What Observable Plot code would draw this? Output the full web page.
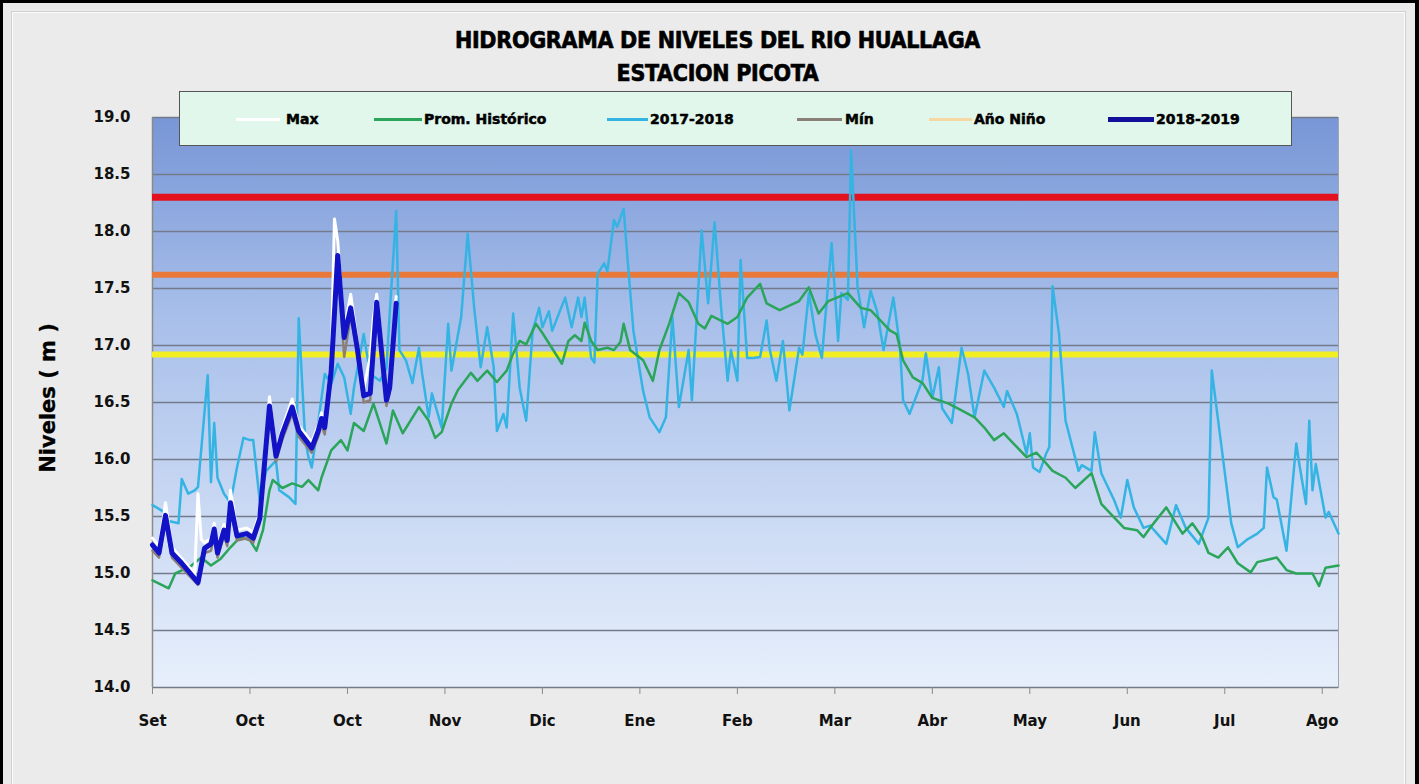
<!DOCTYPE html>
<html>
<head>
<meta charset="utf-8">
<script src="https://cdn.jsdelivr.net/npm/d3@7"></script>
<script src="https://cdn.jsdelivr.net/npm/@observablehq/plot@0.6"></script>
<style>
html,body{margin:0;padding:0;background:#ebebeb;}
#page{position:relative;width:1419px;height:784px;overflow:hidden;background:#ebebeb;}
#frame{position:absolute;left:0;top:0;width:1419px;height:784px;box-sizing:border-box;border-top:3px solid #000;border-left:3px solid #000;border-right:4px solid #000;pointer-events:none;}
#inner{position:absolute;left:12px;top:12px;width:1393px;height:790px;box-sizing:border-box;border:1px solid #fbfbfb;outline:1px solid #d0d0d0;}
#chart{position:absolute;left:0;top:0;}
.title{position:absolute;left:8px;width:1419px;text-align:center;font-family:"DejaVu Sans Condensed","Liberation Sans Narrow",sans-serif;font-weight:bold;font-size:23px;line-height:24px;color:#000;-webkit-text-stroke:0.6px #000;letter-spacing:-0.3px;}
#legend{position:absolute;left:179px;top:91px;width:1113px;height:55px;box-sizing:border-box;background:#e2f7ec;border:1.5px solid #555;}
.sw{position:absolute;}
.lt{position:absolute;top:119px;transform:translateY(-50%);font-family:"DejaVu Sans",sans-serif;font-weight:bold;font-size:14px;line-height:16px;color:#000;-webkit-text-stroke:0.5px #000;white-space:nowrap;}
#ylab{position:absolute;left:-102px;top:383px;width:300px;height:30px;line-height:30px;text-align:center;transform:rotate(-90deg);font-family:"DejaVu Sans",sans-serif;font-weight:bold;font-size:21px;color:#000;-webkit-text-stroke:0.3px #000;}
</style>
</head>
<body>
<div id="page">
  <div id="inner"></div>
  <div id="chart"></div>
  <div class="title" style="top:28px;">HIDROGRAMA DE NIVELES DEL RIO HUALLAGA</div>
  <div class="title" style="top:61px;">ESTACION PICOTA</div>
  <div id="ylab">Niveles ( m )</div>
  <div id="legendWrap"></div>
  <div id="frame"></div>
</div>
<script>
// ---------- data ----------
const monthLabels = ["Set","Oct","Oct","Nov","Dic","Ene","Feb","Mar","Abr","May","Jun","Jul","Ago"];
const tickDays = [0,30,60,90,120,150,180,210,240,270,300,330,360];
const yTicks = [14,14.5,15,15.5,16,16.5,17,17.5,18,18.5,19];

// alert thresholds (horizontal lines)
const thresholdValues = [18.3, 17.62, 16.92];
const thresholdColors = ["#e3101e", "#e9793a", "#f1ee22"];

// Prom. Histórico
const promDays = [0,5,7,10,12,15,18,21,24,27,30,32,34,36,37,40,43,46,48,51,52,55,58,60,62,65,68,72,74,77,82,85,87,89,92,94,98,100,103,106,109,111,113,115,118,120,126,128,130,132,133,135,137,140,142,144,145,147,151,154,156,159,162,165,168,170,172,177,180,183,187,189,193,199,202,205,208,214,218,221,224,227,229,231,234,237,240,245,249,253,256,259,262,265,269,272,274,277,281,284,289,292,296,299,303,305,307,312,315,317,320,323,325,328,331,334,338,340,346,349,352,357,359,361,365];
const promVals = [14.94,14.87,15.00,15.04,15.07,15.14,15.07,15.13,15.23,15.32,15.29,15.20,15.38,15.73,15.82,15.75,15.79,15.76,15.82,15.73,15.84,16.08,16.17,16.08,16.32,16.25,16.49,16.14,16.43,16.23,16.46,16.34,16.19,16.24,16.49,16.61,16.76,16.69,16.78,16.68,16.78,16.93,17.04,17.01,17.19,17.11,16.84,17.04,17.09,17.04,17.20,17.04,16.96,16.98,16.96,17.03,17.19,16.96,16.87,16.69,16.96,17.19,17.46,17.38,17.19,17.15,17.26,17.19,17.25,17.42,17.54,17.37,17.31,17.39,17.51,17.28,17.39,17.46,17.33,17.31,17.22,17.13,17.10,16.87,16.72,16.67,16.54,16.49,16.43,16.37,16.28,16.17,16.23,16.14,16.02,16.06,16.00,15.90,15.84,15.75,15.88,15.61,15.49,15.40,15.38,15.32,15.40,15.58,15.44,15.35,15.44,15.32,15.18,15.14,15.23,15.09,15.01,15.10,15.14,15.03,15.00,15.00,14.89,15.05,15.07];

// 2017-2018
const y1718Days = [0,3,5,8,9,11,13,14,17,18,19,20,22,24,26,28,30,31,33,35,38,39,42,44,45,47,48,49,51,53,55,57,59,61,62,65,67,70,72,73,75,76,78,80,82,83,85,86,89,91,92,95,97,99,101,103,105,106,108,109,111,113,115,117,119,120,122,123,127,129,131,132,133,135,136,137,139,140,142,143,145,146,148,151,153,156,158,160,162,165,166,169,171,173,175,177,178,180,181,183,185,187,189,190,192,194,196,199,200,202,204,206,209,211,212,214,215,217,219,221,223,225,228,230,231,233,235,237,238,240,242,243,246,249,251,253,256,259,262,263,266,269,270,271,273,275,276,277,279,281,285,286,289,290,292,296,298,300,302,305,307,312,315,318,322,325,326,329,332,334,337,340,342,343,345,346,349,352,353,355,356,357,358,361,362,365];
const y1718Vals = [15.60,15.55,15.46,15.44,15.83,15.70,15.73,15.76,16.74,15.80,16.32,15.84,15.70,15.62,15.93,16.19,16.17,16.17,15.64,15.90,15.99,15.73,15.67,15.61,17.24,16.17,16.02,15.93,16.32,16.75,16.66,16.84,16.72,16.40,16.63,17.10,16.75,16.69,16.80,17.28,18.18,16.96,16.87,16.67,16.98,16.75,16.37,16.58,16.28,17.19,16.78,17.25,17.98,17.33,16.81,17.16,16.81,16.25,16.40,16.28,17.28,16.63,16.34,17.13,17.33,17.16,17.30,17.13,17.42,17.16,17.42,17.25,17.42,16.89,16.85,17.63,17.72,17.65,18.10,18.04,18.20,17.83,17.13,16.60,16.37,16.24,16.37,17.25,16.46,16.96,16.52,18.01,17.37,18.08,17.33,16.69,16.96,16.69,17.75,16.89,16.89,16.90,17.22,16.96,16.69,17.04,16.43,16.98,16.92,17.46,17.10,16.89,17.90,17.04,17.46,17.40,18.71,17.51,17.16,17.48,17.30,16.96,17.42,17.00,16.52,16.40,16.55,16.70,16.93,16.54,16.81,16.45,16.32,16.98,16.75,16.37,16.78,16.63,16.46,16.60,16.40,16.05,16.23,15.93,15.89,16.05,16.11,17.52,17.10,16.34,15.90,15.95,15.90,16.24,15.88,15.64,15.49,15.82,15.58,15.40,15.42,15.26,15.60,15.40,15.26,15.49,16.78,16.11,15.44,15.23,15.30,15.35,15.40,15.93,15.67,15.65,15.20,16.14,15.95,15.61,16.34,15.73,15.96,15.49,15.54,15.35];

// 2018-2019
const y1819Days = [0,2,4,6,9,14,16,18,19,20,22,23,24,26,29,31,33,36,38,40,43,45,49,51,52,53,55,57,59,61,63,65,67,69,72,73,75];
const y1819Vals = [15.25,15.18,15.51,15.18,15.09,14.92,15.22,15.26,15.39,15.18,15.38,15.29,15.62,15.33,15.35,15.31,15.48,16.47,16.03,16.23,16.46,16.25,16.10,16.25,16.36,16.28,16.78,17.79,17.07,17.33,16.98,16.56,16.58,17.38,16.52,16.63,17.37];

// Max
const maxDays = [0,2,4,6,9,13,14,15,16,18,19,20,22,23,24,26,29,31,33,36,38,40,43,45,49,51,52,53,55,56,57,59,61,63,65,67,68,69,72,73,75];
const maxVals = [15.31,15.24,15.62,15.23,15.13,15.00,15.70,15.30,15.27,15.31,15.44,15.23,15.43,15.34,15.73,15.38,15.40,15.36,15.53,16.55,16.08,16.28,16.53,16.30,16.15,16.30,16.41,16.34,16.86,18.11,17.92,17.14,17.45,17.04,16.62,16.90,17.25,17.45,16.57,16.68,17.43];

// Min
const minDays = [0,2,4,6,9,14,16,18,19,20,22,23,24,26,29,31,33,36,38,40,43,45,49,51,52,53,55,57,59,61,63,65,67,69,72,73,75];
const minVals = [15.20,15.14,15.45,15.14,15.05,14.90,15.18,15.20,15.34,15.14,15.33,15.24,15.56,15.29,15.31,15.27,15.44,16.40,15.98,16.18,16.40,16.20,16.06,16.20,16.30,16.22,16.72,17.70,16.90,17.26,16.92,16.50,16.52,17.30,16.47,16.58,17.30];

// legend
const legendNames = ["Max","Prom. Histórico","2017-2018","Mín","Año Niño","2018-2019"];
const legendColors = ["#ffffff","#2aa55a","#35b4e4","#8c7f78","#f6d8a2","#10109a"];

// ---------- build ----------
const toRows = (days, vals) => days.map((d, i) => ({day: d, v: vals[i]}));
const prom = toRows(promDays, promVals);
const s1718 = toRows(y1718Days, y1718Vals);
const s1819 = toRows(y1819Days, y1819Vals);
const sMax = toRows(maxDays, maxVals);
const sMin = toRows(minDays, minVals);

const chart = Plot.plot({
  width: 1419,
  height: 784,
  marginLeft: 152,
  marginRight: 81,
  marginTop: 117,
  marginBottom: 97,
  style: {background: "transparent", fontFamily: "DejaVu Sans, sans-serif", fontWeight: "bold", fontSize: "15px", color: "#111"},
  x: {domain: [0, 365]},
  y: {domain: [14, 19]},
  marks: [
    Plot.frame({fill: "url(#bgGrad)", stroke: "#9ea6b6"}),
    Plot.ruleY(yTicks, {stroke: "#737b8a", strokeWidth: 1.5}),
    Plot.ruleX([0], {stroke: "#8a8a8a", strokeWidth: 1.5}),
    Plot.ruleY(thresholdValues.slice(0,1), {stroke: thresholdColors[0], strokeWidth: 7}),
    Plot.ruleY(thresholdValues.slice(1,2), {stroke: thresholdColors[1], strokeWidth: 6}),
    Plot.ruleY(thresholdValues.slice(2,3), {stroke: thresholdColors[2], strokeWidth: 6}),
    Plot.line(s1718, {x: "day", y: "v", stroke: legendColors[2], strokeWidth: 2.5}),
    Plot.line(prom, {x: "day", y: "v", stroke: legendColors[1], strokeWidth: 2.5}),
    Plot.line(sMin, {x: "day", y: "v", stroke: legendColors[3], strokeWidth: 2.5}),
    Plot.line(sMax, {x: "day", y: "v", stroke: legendColors[0], strokeWidth: 3}),
    Plot.line(s1819, {x: "day", y: "v", stroke: "#1212c6", strokeWidth: 5}),
    Plot.axisX({ticks: tickDays, tickFormat: d => monthLabels[tickDays.indexOf(d)], tickSize: 7, tickPadding: 21, stroke: "#8a8a8a", fill: "#111", label: null}),
    Plot.axisY({ticks: yTicks, tickFormat: d3.format(".1f"), tickSize: 0, tickPadding: 22, fill: "#111", label: null})
  ]
});

const ns = "http://www.w3.org/2000/svg";
const defs = document.createElementNS(ns, "defs");
defs.innerHTML = '<linearGradient id="bgGrad" x1="0" y1="0" x2="0" y2="1">' +
  '<stop offset="0" stop-color="#7896d6"/>' +
  '<stop offset="0.35" stop-color="#a8bfea"/>' +
  '<stop offset="0.7" stop-color="#cbdaf4"/>' +
  '<stop offset="1" stop-color="#e7effb"/></linearGradient>';
chart.insertBefore(defs, chart.firstChild);
document.getElementById("chart").appendChild(chart);

// legend
const lineX = [[236,280],[374,422],[607,648],[797,842],[929,972],[1108,1154]];
const textX = [286,424,650,845,974,1156];
const lw = [3,3,3,3,3,5];
const wrap = document.getElementById("legendWrap");
const box = document.createElement("div");
box.id = "legend";
wrap.appendChild(box);
legendNames.forEach((name, i) => {
  const sw = document.createElement("div");
  sw.className = "sw";
  sw.style.left = lineX[i][0] + "px";
  sw.style.width = (lineX[i][1] - lineX[i][0]) + "px";
  sw.style.top = (119 - lw[i] / 2) + "px";
  sw.style.height = lw[i] + "px";
  sw.style.background = legendColors[i];
  wrap.appendChild(sw);
  const t = document.createElement("div");
  t.className = "lt";
  t.style.left = textX[i] + "px";
  t.textContent = name;
  wrap.appendChild(t);
});
</script>
</body>
</html>
